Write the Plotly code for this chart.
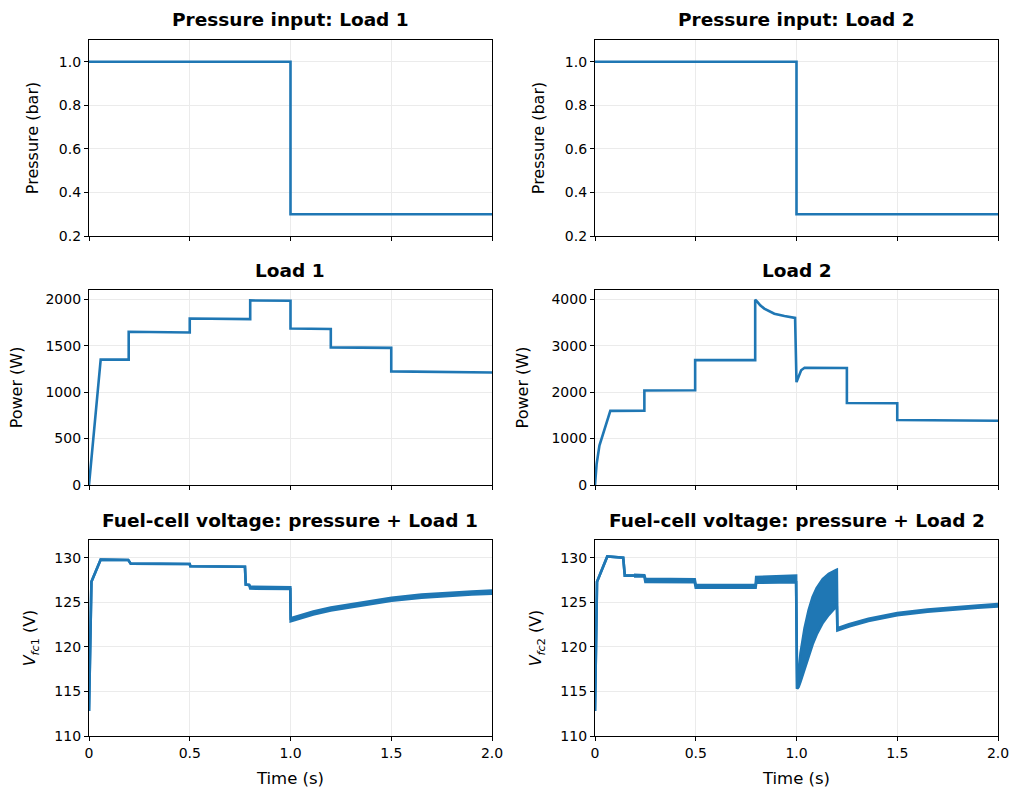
import plotly.graph_objects as go

# ---------------- data ----------------
# Pressure input (identical for both loads)
t_press = [0.0, 1.0, 1.0, 2.0]
p_load1 = [1.0, 1.0, 0.3, 0.3]
p_load2 = [1.0, 1.0, 0.3, 0.3]

# Load 1 power (W)
t_pow1 = [0.0, 0.058, 0.197, 0.197, 0.5, 0.5, 0.8, 0.8, 1.0, 1.0, 1.2, 1.2, 1.5, 1.5, 2.0]
pow1 = [0, 1352, 1350, 1650, 1642, 1793, 1786, 1988, 1984, 1686, 1680, 1482, 1477, 1224, 1212]

# Load 2 power (W)
t_pow2 = [0.0, 0.008, 0.022, 0.05, 0.076, 0.245, 0.245, 0.497, 0.497, 0.795, 0.795,
          0.805, 0.82, 0.84, 0.865, 0.89, 0.94, 0.993, 1.0, 1.007, 1.023, 1.04, 1.25, 1.25, 1.5, 1.5, 2.0]
pow2 = [0, 450, 850, 1250, 1597, 1600, 2035, 2040, 2690, 2690, 3990,
        3950, 3870, 3800, 3740, 3690, 3640, 3600, 2216, 2300, 2470, 2525, 2520, 1765, 1760, 1400, 1385]

# Fuel-cell voltage 1 (V): upper / lower envelope of the fast ripple
t_v1 = [0.0, 0.012, 0.058, 0.195, 0.207, 0.5, 0.503, 0.774, 0.778, 0.795, 0.8, 0.999,
        1.001, 1.05, 1.113, 1.2, 1.279, 1.4, 1.502, 1.65, 1.775, 1.9, 2.0]
v1_upper = [112.8, 127.3, 129.8, 129.75, 129.35, 129.3, 129.05, 129.0, 127.0, 126.95, 126.75, 126.7,
            123.22, 123.57, 123.97, 124.42, 124.72, 125.17, 125.52, 125.87, 126.07, 126.22, 126.32]
v1_lower = [112.8, 127.3, 129.8, 129.75, 129.35, 129.3, 129.05, 129.0, 127.0, 126.95, 126.55, 126.5,
            122.88, 123.23, 123.63, 124.08, 124.38, 124.83, 125.18, 125.53, 125.73, 125.88, 125.98]

# Fuel-cell voltage 2 (V): upper / lower envelope of the fast ripple
t_v2 = [0.0, 0.01, 0.061, 0.14, 0.148, 0.2, 0.2, 0.245, 0.25, 0.495, 0.5, 0.797, 0.8, 0.99, 0.998,
        1.003, 1.01, 1.02, 1.04, 1.06, 1.08, 1.10, 1.13, 1.16, 1.195, 1.2, 1.203,
        1.26, 1.357, 1.5, 1.65, 1.77, 1.9, 2.0]
v2_upper = [112.8, 127.3, 130.15, 130.0, 128.0, 128.0, 128.1, 128.05, 127.65, 127.6, 126.95, 126.95, 127.85, 128.05, 128.0,
            115.3, 117.3, 119.3, 122.1, 124.1, 125.6, 126.6, 127.6, 128.2, 128.6, 128.65, 122.1,
            122.55, 123.15, 123.8, 124.2, 124.45, 124.65, 124.8]
v2_lower = [112.8, 127.3, 130.15, 130.0, 128.0, 128.0, 127.9, 127.9, 127.3, 127.25, 126.65, 126.65, 127.2, 127.25, 127.25,
            115.3, 115.5, 116.1, 117.5, 119.0, 120.3, 121.4, 122.7, 123.6, 124.4, 124.6, 121.85,
            122.3, 122.9, 123.55, 123.95, 124.2, 124.4, 124.55]

x_tickvals = [0, 0.5, 1.0, 1.5, 2.0]
x_ticktext = ["0", "0.5", "1.0", "1.5", "2.0"]

titles = ["Pressure input: Load 1", "Pressure input: Load 2", "Load 1", "Load 2",
          "Fuel-cell voltage: pressure + Load 1", "Fuel-cell voltage: pressure + Load 2"]

# ---------------- figure ----------------
BLUE = "#1f77b4"
LW = 2.6
W, H = 1014, 789

colx = [(89, 492), (595, 998)]
rowy = [(40, 236), (290, 485), (540, 736)]


def xd(c):
    return [colx[c][0] / W, colx[c][1] / W]


def yd(r):
    return [1 - rowy[r][1] / H, 1 - rowy[r][0] / H]


fig = go.Figure()

line = dict(color=BLUE, width=LW)

# row 1
fig.add_trace(go.Scatter(x=t_press, y=p_load1, mode="lines", line=line, xaxis="x", yaxis="y", showlegend=False))
fig.add_trace(go.Scatter(x=t_press, y=p_load2, mode="lines", line=line, xaxis="x2", yaxis="y2", showlegend=False))
# row 2
fig.add_trace(go.Scatter(x=t_pow1, y=pow1, mode="lines", line=line, xaxis="x3", yaxis="y3", showlegend=False))
fig.add_trace(go.Scatter(x=t_pow2, y=pow2, mode="lines", line=line, xaxis="x4", yaxis="y4", showlegend=False))
# row 3 (bands)
fig.add_trace(go.Scatter(x=t_v1, y=v1_lower, mode="lines", line=line, xaxis="x5", yaxis="y5", showlegend=False))
fig.add_trace(go.Scatter(x=t_v1, y=v1_upper, mode="lines", line=line, fill="tonexty", fillcolor=BLUE,
                         xaxis="x5", yaxis="y5", showlegend=False))
fig.add_trace(go.Scatter(x=t_v2, y=v2_lower, mode="lines", line=line, xaxis="x6", yaxis="y6", showlegend=False))
fig.add_trace(go.Scatter(x=t_v2, y=v2_upper, mode="lines", line=line, fill="tonexty", fillcolor=BLUE,
                         xaxis="x6", yaxis="y6", showlegend=False))

FONT = "DejaVu Sans"
axis_common = dict(showline=True, mirror=True, linecolor="black", linewidth=1.2,
                   ticks="outside", ticklen=4, tickwidth=1, tickcolor="black",
                   showgrid=True, gridcolor="#ebebeb", gridwidth=1, zeroline=False,
                   automargin=False,
                   tickfont=dict(family=FONT, size=14, color="black"))

layout = dict(width=W, height=H, margin=dict(l=0, r=0, t=0, b=0, autoexpand=False),
              plot_bgcolor="white", paper_bgcolor="white",
              font=dict(family=FONT, color="black"))

ylabels = ["Pressure (bar)", "Pressure (bar)", "Power (W)", "Power (W)",
           "<i>V</i><sub><i>fc</i>1</sub> (V)", "<i>V</i><sub><i>fc</i>2</sub> (V)"]
ystandoff = [16, 16, 18, 18, 14, 14]
yranges = [[0.2, 1.1], [0.2, 1.1], [0, 2100], [0, 4200], [110, 132], [110, 132]]
ytickvals = [[0.2, 0.4, 0.6, 0.8, 1.0], [0.2, 0.4, 0.6, 0.8, 1.0],
             [0, 500, 1000, 1500, 2000], [0, 1000, 2000, 3000, 4000],
             [110, 115, 120, 125, 130], [110, 115, 120, 125, 130]]
yticktext = [["0.2", "0.4", "0.6", "0.8", "1.0"], ["0.2", "0.4", "0.6", "0.8", "1.0"],
             ["0", "500", "1000", "1500", "2000"], ["0", "1000", "2000", "3000", "4000"],
             ["110", "115", "120", "125", "130"], ["110", "115", "120", "125", "130"]]

annotations = []
for i in range(6):
    r, c = divmod(i, 2)
    xname = "xaxis" if i == 0 else f"xaxis{i+1}"
    yname = "yaxis" if i == 0 else f"yaxis{i+1}"
    anchor_x = "x" if i == 0 else f"x{i+1}"
    anchor_y = "y" if i == 0 else f"y{i+1}"
    xa = dict(axis_common, domain=xd(c), anchor=anchor_y, range=[0, 2],
              tickmode="array", tickvals=x_tickvals, ticktext=x_ticktext,
              showticklabels=(r == 2))
    if r == 2:
        xa["title"] = dict(text="Time (s)", font=dict(family=FONT, size=16.5), standoff=12)
    layout[xname] = xa
    layout[yname] = dict(axis_common, domain=yd(r), anchor=anchor_x, range=yranges[i],
                         tickmode="array", tickvals=ytickvals[i], ticktext=yticktext[i],
                         title=dict(text=ylabels[i], font=dict(family=FONT, size=16), standoff=ystandoff[i]))
    annotations.append(dict(text=f"<b>{titles[i]}</b>", x=sum(xd(c)) / 2, y=1 - (rowy[r][0] - 20) / H,
                            xref="paper", yref="paper", xanchor="center", yanchor="middle",
                            showarrow=False, font=dict(family=FONT, size=18.5, color="black")))

layout["annotations"] = annotations
fig.update_layout(**layout)
fig.write_html("out.html")
